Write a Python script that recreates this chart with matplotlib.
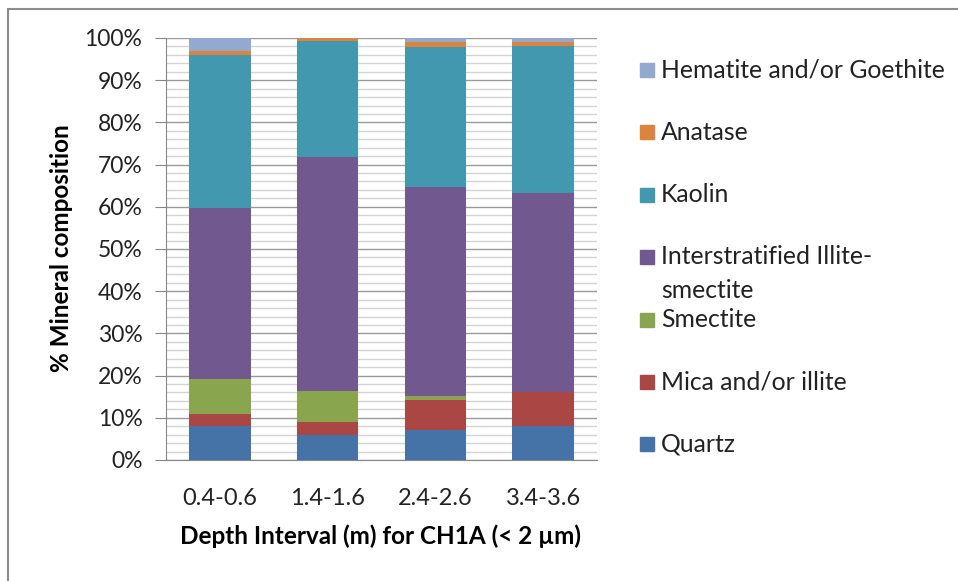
import matplotlib.pyplot as plt
from matplotlib.patches import Rectangle
from matplotlib.ticker import MultipleLocator, PercentFormatter
import numpy as np

plt.rcParams['font.family'] = ['Lato', 'DejaVu Sans']

depths = ['0.4-0.6', '1.4-1.6', '2.4-2.6', '3.4-3.6']
# stacked from the bottom up
quartz = [8.0, 6.0, 7.2, 8.0]
mica = [3.0, 3.0, 6.9, 8.0]
smectite = [8.3, 7.3, 1.1, 0.0]
interstratified = [40.4, 55.5, 49.5, 47.2]
kaolin = [36.3, 27.4, 33.2, 34.8]
anatase = [1.0, 0.8, 1.2, 1.1]
hematite = [3.0, 0.0, 0.9, 0.9]

series = [
    ('Quartz', quartz, '#4572A7'),
    ('Mica and/or illite', mica, '#AA4643'),
    ('Smectite', smectite, '#89A54E'),
    ('Interstratified Illite-\nsmectite', interstratified, '#71588F'),
    ('Kaolin', kaolin, '#4198AF'),
    ('Anatase', anatase, '#DB843D'),
    ('Hematite and/or Goethite', hematite, '#93A9CF'),
]

W, H = 958, 581
fig = plt.figure(figsize=(W / 100, H / 100), dpi=100)
ax = fig.add_axes([166 / W, 1 - 460 / H, (597 - 166) / W, (460 - 38) / H])

x = np.arange(len(depths))
bottom = np.zeros(len(depths))
for name, vals, col in series:
    ax.bar(x, vals, width=0.57, bottom=bottom, color=col, zorder=3, linewidth=0)
    bottom += np.array(vals)

ax.set_xlim(-0.5, len(depths) - 0.5)
ax.set_ylim(0, 100)
ax.yaxis.set_major_locator(MultipleLocator(10))
ax.yaxis.set_minor_locator(MultipleLocator(2))
ax.yaxis.set_major_formatter(PercentFormatter(decimals=0))
ax.grid(axis='y', which='major', color='#9a9a9a', linewidth=1, zorder=0)
ax.grid(axis='y', which='minor', color='#d4d4d4', linewidth=1, zorder=0)
ax.set_axisbelow(True)

for s in ['top', 'right']:
    ax.spines[s].set_visible(False)
for s in ['left', 'bottom']:
    ax.spines[s].set_color('#868686')
ax.tick_params(axis='y', which='major', length=8, color='#868686', labelsize=16.5, pad=9,
               labelcolor='#222222')
ax.tick_params(axis='y', which='minor', length=0)
ax.tick_params(axis='x', length=0, labelsize=17, pad=20, labelcolor='#222222')
ax.set_xticks(x)
ax.set_xticklabels(depths)

fig.text(62 / W, 1 - 248 / H, '% Mineral composition', rotation=90, ha='center', va='center',
         fontsize=17.5, fontweight='bold')
fig.text(381 / W, 1 - 536 / H, 'Depth Interval (m) for CH1A (< 2 µm)', ha='center', va='center',
         fontsize=17.5, fontweight='bold')

# legend, top entry first
leg_y = [444, 382, 320, 257, 195, 132, 70]
for (name, vals, col), yy in zip(series, leg_y):
    fig.add_artist(Rectangle((640 / W, 1 - (yy + 7) / H), 14 / W, 14 / H,
                             transform=fig.transFigure, color=col))
    for i, line in enumerate(name.split('\n')):
        fig.text(661 / W, 1 - (yy + 33 * i) / H, line, ha='left', va='center',
                 fontsize=17.8, color='#222222')

# chart frame (left and top edges visible)
fig.add_artist(Rectangle((8 / W, -0.05), 1.1, 1 - 9 / H + 0.05, transform=fig.transFigure,
                         fill=False, edgecolor='#8c8c8c', linewidth=1.5))

fig.savefig('out.png', dpi=100)
